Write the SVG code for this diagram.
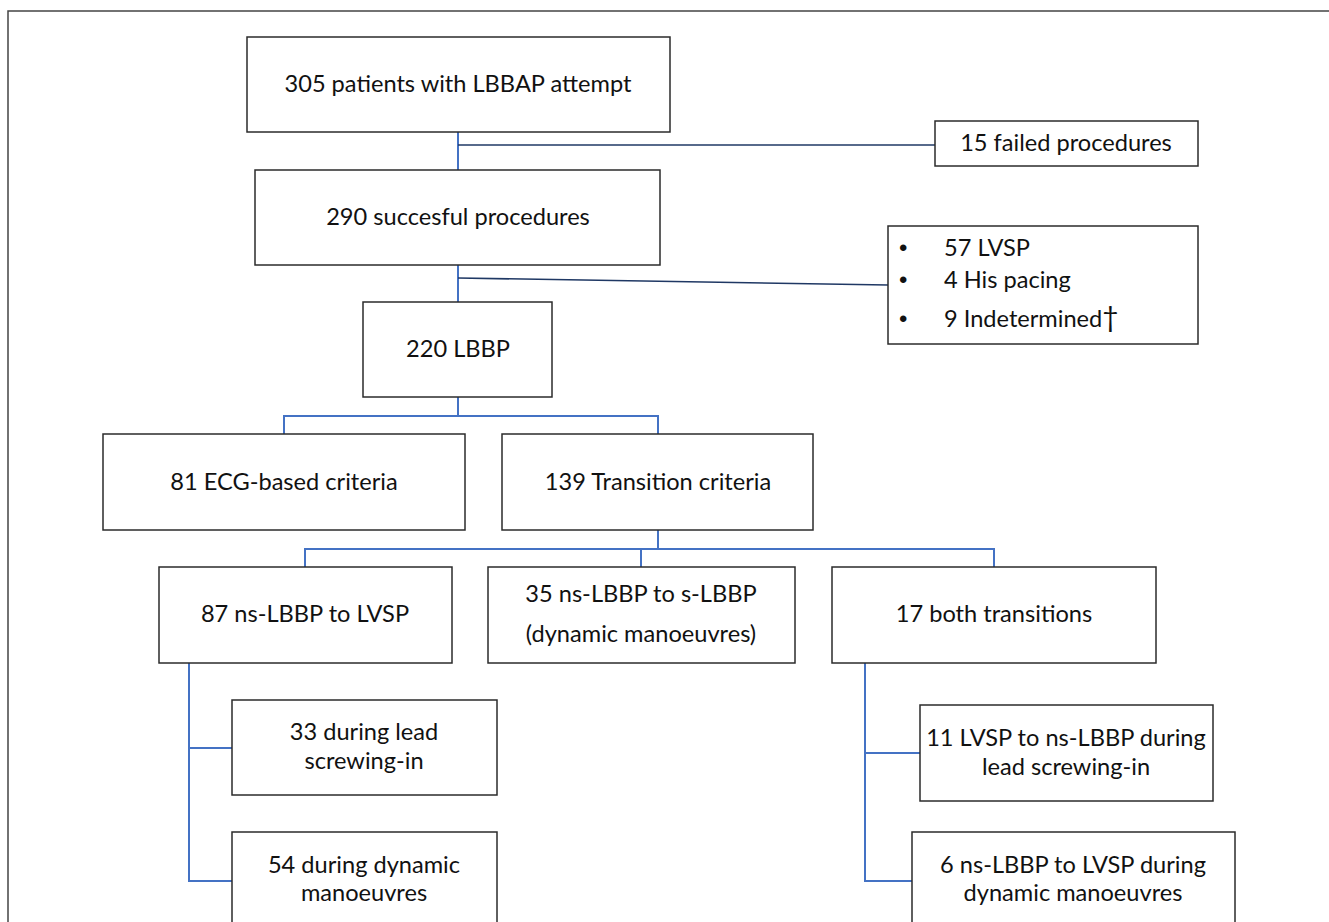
<svg xmlns="http://www.w3.org/2000/svg" width="1329" height="922" viewBox="0 0 1329 922">
<style>
.box{fill:#fff;stroke:#2b2b2b;stroke-width:1.5}
.t{font-family:Lato,"Open Sans",sans-serif;font-size:23.6px;fill:#111;text-anchor:middle;dominant-baseline:central}
.tl{font-family:Lato,"Open Sans",sans-serif;font-size:23.6px;fill:#111;dominant-baseline:central}
.b{font-family:"Liberation Sans",sans-serif;font-size:24px;fill:#111;dominant-baseline:central}
.c{fill:none;stroke:#4472c4;stroke-width:2}
.cd{fill:none;stroke:#1f3864;stroke-width:1.6}
</style>
<rect width="1329" height="922" fill="#fff"/>
<path d="M8,922 V11 H1329" fill="none" stroke="#444" stroke-width="1.5"/>
<g id="connectors">
<path class="c" d="M458,132 V170"/>
<path class="cd" d="M458,145 H935"/>
<path class="c" d="M458,265 V302"/>
<path class="cd" d="M458,278 L888,285"/>
<path class="c" d="M458,397 V416 M284,434 V416 H658 V434"/>
<path class="c" d="M658,530 V549 M305,567 V549 H994 V567 M641,549 V567"/>
<path class="c" d="M189,663 V881 H232 M189,748 H232"/>
<path class="c" d="M865,663 V881 H912 M865,753 H920"/>
</g>
<g id="n1"><rect class="box" x="247" y="37" width="423" height="95"/><text class="t" x="458" y="83">305 patients with LBBAP attempt</text></g>
<g id="n2"><rect class="box" x="935" y="121" width="263" height="45"/><text class="t" x="1066" y="142">15 failed procedures</text></g>
<g id="n3"><rect class="box" x="255" y="170" width="405" height="95"/><text class="t" x="458" y="216">290 succesful procedures</text></g>
<g id="n4"><rect class="box" x="888" y="226" width="310" height="118"/>
<text class="b" x="899" y="247">•</text><text class="tl" x="944" y="247">57 LVSP</text>
<text class="b" x="899" y="279">•</text><text class="tl" x="944" y="279">4 His pacing</text>
<text class="b" x="899" y="318">•</text><text class="tl" x="944" y="318">9 Indetermined<tspan font-size="28" dy="-2">†</tspan></text></g>
<g id="n5"><rect class="box" x="363" y="302" width="189" height="95"/><text class="t" x="458" y="348">220 LBBP</text></g>
<g id="n6"><rect class="box" x="103" y="434" width="362" height="96"/><text class="t" x="284" y="481">81 ECG-based criteria</text></g>
<g id="n7"><rect class="box" x="502" y="434" width="311" height="96"/><text class="t" x="658" y="481">139 Transition criteria</text></g>
<g id="n8"><rect class="box" x="159" y="567" width="293" height="96"/><text class="t" x="305" y="613">87 ns-LBBP to LVSP</text></g>
<g id="n9"><rect class="box" x="488" y="567" width="307" height="96"/><text class="t" x="641" y="593">35 ns-LBBP to s-LBBP</text><text class="t" x="641" y="633">(dynamic manoeuvres)</text></g>
<g id="n10"><rect class="box" x="832" y="567" width="324" height="96"/><text class="t" x="994" y="613">17 both transitions</text></g>
<g id="n11"><rect class="box" x="232" y="700" width="265" height="95"/><text class="t" x="364" y="731">33 during lead</text><text class="t" x="364" y="760">screwing-in</text></g>
<g id="n12"><rect class="box" x="232" y="832" width="265" height="100"/><text class="t" x="364" y="864">54 during dynamic</text><text class="t" x="364" y="892">manoeuvres</text></g>
<g id="n13"><rect class="box" x="920" y="705" width="293" height="96"/><text class="t" x="1066" y="737">11 LVSP to ns-LBBP during</text><text class="t" x="1066" y="766">lead screwing-in</text></g>
<g id="n14"><rect class="box" x="912" y="832" width="323" height="100"/><text class="t" x="1073" y="864">6 ns-LBBP to LVSP during</text><text class="t" x="1073" y="892">dynamic manoeuvres</text></g>
</svg>
